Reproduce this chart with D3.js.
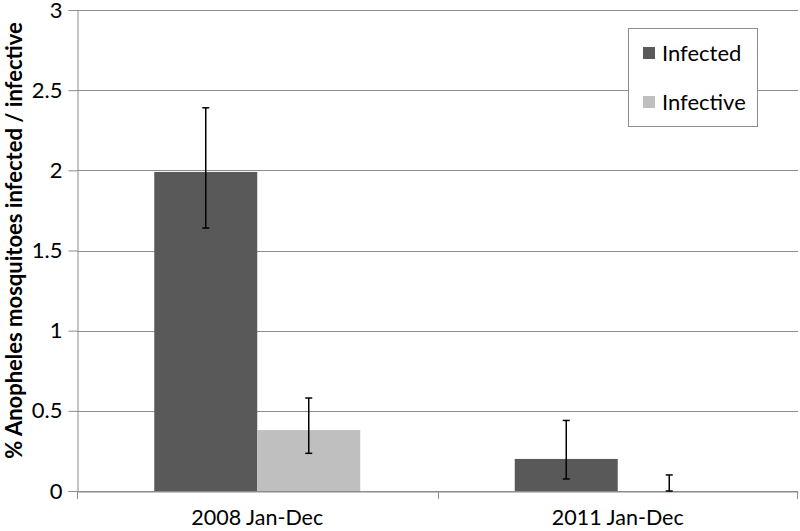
<!DOCTYPE html>
<html>
<head>
<meta charset="utf-8">
<script src="https://cdn.jsdelivr.net/npm/d3@7"></script>
<style>
  body { margin: 0; background: #fff; }
  svg { display: block; font-family: Lato, "Open Sans", sans-serif; }
</style>
</head>
<body>
<svg id="chart"></svg>
<script>
const categories = ["2008 Jan-Dec", "2011 Jan-Dec"];
const seriesNames = ["Infected", "Infective"];
const infected = [1.99, 0.2];
const infectedLow = [1.64, 0.075];
const infectedHigh = [2.39, 0.44];
const infective = [0.38, 0];
const infectiveLow = [0.235, 0];
const infectiveHigh = [0.58, 0.1];
const yTicks = [0, 0.5, 1, 1.5, 2, 2.5, 3];
const colors = ["#595959", "#bfbfbf"];

const w = 800, h = 531;
const margin = { top: 10, right: 2, bottom: 40, left: 77 };

const svg = d3.select("#chart").attr("width", w).attr("height", h);

const x = d3.scaleBand()
  .domain(categories)
  .range([margin.left, w - margin.right])
  .paddingInner(0)
  .paddingOuter(0);

const groupW = x.bandwidth() * 206 / 360.5;
const xs = d3.scaleBand()
  .domain(seriesNames)
  .range([0, groupW]);

const y = d3.scaleLinear()
  .domain([0, 3])
  .range([h - margin.bottom, margin.top]);

// gridlines
svg.append("g")
  .selectAll("line")
  .data(yTicks)
  .join("line")
  .attr("x1", margin.left)
  .attr("x2", w - margin.right)
  .attr("y1", d => Math.round(y(d)) + 0.5)
  .attr("y2", d => Math.round(y(d)) + 0.5)
  .attr("stroke", "#8c8c8c")
  .attr("stroke-width", 1);

// y axis
const yAxis = svg.append("g")
  .attr("transform", `translate(${margin.left + 0.5},0)`)
  .call(d3.axisLeft(y).tickValues(yTicks).tickSize(9).tickPadding(6).tickFormat(d3.format("~g")));
yAxis.select(".domain").attr("stroke", "#8c8c8c");
yAxis.selectAll(".tick line").attr("stroke", "#8c8c8c");
yAxis.selectAll(".tick text")
  .attr("font-size", 22)
  .attr("fill", "#000")
  .attr("font-family", "Lato, 'Open Sans', sans-serif");

// bars
const rows = [
  { name: "Infected", vals: infected, lo: infectedLow, hi: infectedHigh },
  { name: "Infective", vals: infective, lo: infectiveLow, hi: infectiveHigh }
];

rows.forEach((s, si) => {
  const g = svg.append("g");
  categories.forEach((c, ci) => {
    const x0 = x(c) + (x.bandwidth() - groupW) / 2 + xs(s.name);
    if (s.vals[ci] > 0) {
      g.append("rect")
        .attr("x", x0)
        .attr("y", y(s.vals[ci]))
        .attr("width", xs.bandwidth())
        .attr("height", y(0) - y(s.vals[ci]))
        .attr("fill", colors[si]);
    }
  });
});

// x axis
const xAxis = svg.append("g")
  .attr("transform", `translate(0,${Math.round(y(0)) + 0.5})`)
  .call(d3.axisBottom(x).tickSize(0).tickPadding(18));
xAxis.select(".domain").attr("stroke", "#8c8c8c");
xAxis.selectAll(".tick text")
  .attr("font-size", 21.5)
  .attr("fill", "#000")
  .attr("font-family", "Lato, 'Open Sans', sans-serif");
// boundary ticks between categories
const bounds = [margin.left, x(categories[1]), w - margin.right - 1];
svg.append("g")
  .selectAll("line")
  .data(bounds)
  .join("line")
  .attr("x1", d => Math.round(d) + 0.5)
  .attr("x2", d => Math.round(d) + 0.5)
  .attr("y1", y(0))
  .attr("y2", y(0) + 8)
  .attr("stroke", "#8c8c8c");

// error bars
rows.forEach((s) => {
  const g = svg.append("g").attr("stroke", "#000").attr("stroke-width", 1.5);
  categories.forEach((c, ci) => {
    const cx = x(c) + (x.bandwidth() - groupW) / 2 + xs(s.name) + xs.bandwidth() / 2;
    const top = y(s.hi[ci]), bot = y(s.lo[ci]);
    g.append("line").attr("x1", cx).attr("x2", cx).attr("y1", top).attr("y2", bot);
    g.append("line").attr("x1", cx - 3.5).attr("x2", cx + 3.5).attr("y1", top).attr("y2", top);
    g.append("line").attr("x1", cx - 3.5).attr("x2", cx + 3.5).attr("y1", bot).attr("y2", bot);
  });
});

// y axis title
svg.append("text")
  .attr("transform", `translate(22,${(y(0) + y(3)) / 2 - 10}) rotate(-90)`)
  .attr("text-anchor", "middle")
  .attr("font-size", 22)
  .attr("font-weight", "bold")
  .text("% Anopheles mosquitoes infected / infective");

// legend
const legend = svg.append("g");
legend.append("rect")
  .attr("x", 628.5).attr("y", 28.5)
  .attr("width", 129).attr("height", 98)
  .attr("fill", "#fff").attr("stroke", "#8c8c8c");
seriesNames.forEach((n, i) => {
  const ly = 47 + i * 49;
  legend.append("rect")
    .attr("x", 643).attr("y", ly)
    .attr("width", 12).attr("height", 12)
    .attr("fill", colors[i]);
  legend.append("text")
    .attr("x", 662).attr("y", ly + 14)
    .attr("font-size", 22)
    .text(n);
});
</script>
</body>
</html>
